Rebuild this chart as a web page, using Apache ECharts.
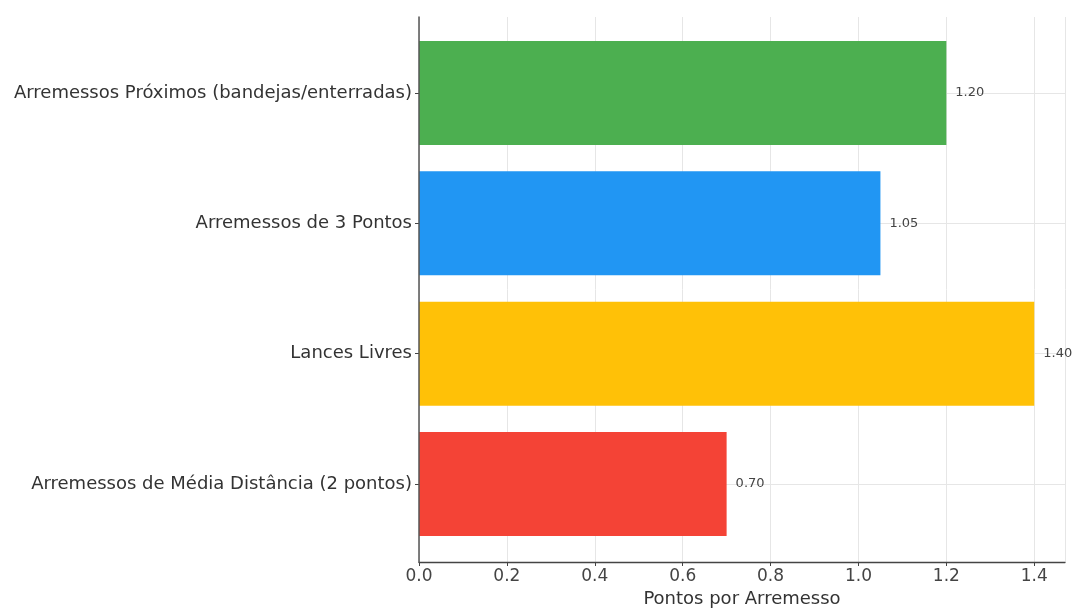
<!DOCTYPE html>
<html>
<head>
<meta charset="utf-8">
<script src="https://cdn.jsdelivr.net/npm/echarts@6/dist/echarts.min.js"></script>
<style>
  html, body { margin: 0; padding: 0; background: #ffffff; }
  #chart { width: 1077px; height: 608px; }
</style>
</head>
<body>
<div id="chart"></div>
<script>
// Shot types, top to bottom
const categories = [
  'Arremessos Próximos (bandejas/enterradas)',
  'Arremessos de 3 Pontos',
  'Lances Livres',
  'Arremessos de Média Distância (2 pontos)'
];
// Points per shot attempt
const values = [1.20, 1.05, 1.40, 0.70];
const barColors = ['#4CAF50', '#2196F3', '#FFC107', '#F44336'];
const xTicks = [0.0, 0.2, 0.4, 0.6, 0.8, 1.0, 1.2, 1.4];
const xName = 'Pontos por Arremesso';

const xMax = 1.47;
const font = 'DejaVu Sans';

const chart = echarts.init(document.getElementById('chart'), null, { renderer: 'canvas' });

chart.setOption({
  animation: false,
  backgroundColor: '#ffffff',
  grid: [
    // frame: spines, x ticks, vertical grid lines
    { left: 419, right: 12, top: 17, bottom: 46, containLabel: false, outerBoundsMode: 'none' },
    // bars: category ticks sit at bar centres
    { left: 419, right: 12, top: 93, bottom: 124, containLabel: false, outerBoundsMode: 'none' }
  ],
  xAxis: [
    {
      gridIndex: 0,
      type: 'value',
      min: 0,
      max: xMax,
      interval: 0.2,
      z: 0,
      name: xName,
      nameLocation: 'middle',
      nameGap: 27,
      nameTextStyle: { fontFamily: font, fontSize: 18, color: '#333' },
      axisLine: { show: true, lineStyle: { color: '#444', width: 1.3 } },
      axisTick: { show: true, length: 4, lineStyle: { color: '#444' } },
      axisLabel: {
        fontFamily: font, fontSize: 17, color: '#444', margin: 6,
        showMaxLabel: false,
        formatter: v => {
          const hit = xTicks.find(t => Math.abs(t - v) < 1e-6);
          return hit === undefined ? '' : hit.toFixed(1);
        }
      },
      splitLine: { show: true, lineStyle: { color: '#e6e6e6', width: 1 } }
    },
    {
      gridIndex: 1,
      type: 'value',
      min: 0,
      max: xMax,
      show: false
    }
  ],
  yAxis: [
    {
      // left spine, drawn above the bars
      gridIndex: 0,
      type: 'value',
      min: 0,
      max: 1,
      z: 5,
      axisLine: { show: true, lineStyle: { color: '#555', width: 1.5 } },
      axisTick: { show: false },
      axisLabel: { show: false },
      splitLine: { show: false }
    },
    {
      gridIndex: 1,
      type: 'category',
      data: categories,
      inverse: true,
      boundaryGap: false,
      z: 0,
      axisLine: { show: false },
      axisTick: { show: true, inside: false, length: 4, lineStyle: { color: '#444' } },
      axisLabel: { fontFamily: font, fontSize: 18, color: '#333', margin: 7 },
      splitLine: { show: true, lineStyle: { color: '#e6e6e6', width: 1 } }
    }
  ],
  series: [
    {
      type: 'bar',
      xAxisIndex: 1,
      yAxisIndex: 1,
      clip: false,
      barWidth: 104,
      data: values.map((v, i) => ({ value: v, itemStyle: { color: barColors[i] } })),
      label: {
        show: true,
        position: 'right',
        distance: 9,
        fontFamily: font,
        fontSize: 13,
        color: '#444',
        formatter: p => p.value.toFixed(2)
      }
    }
  ]
});
</script>
</body>
</html>
